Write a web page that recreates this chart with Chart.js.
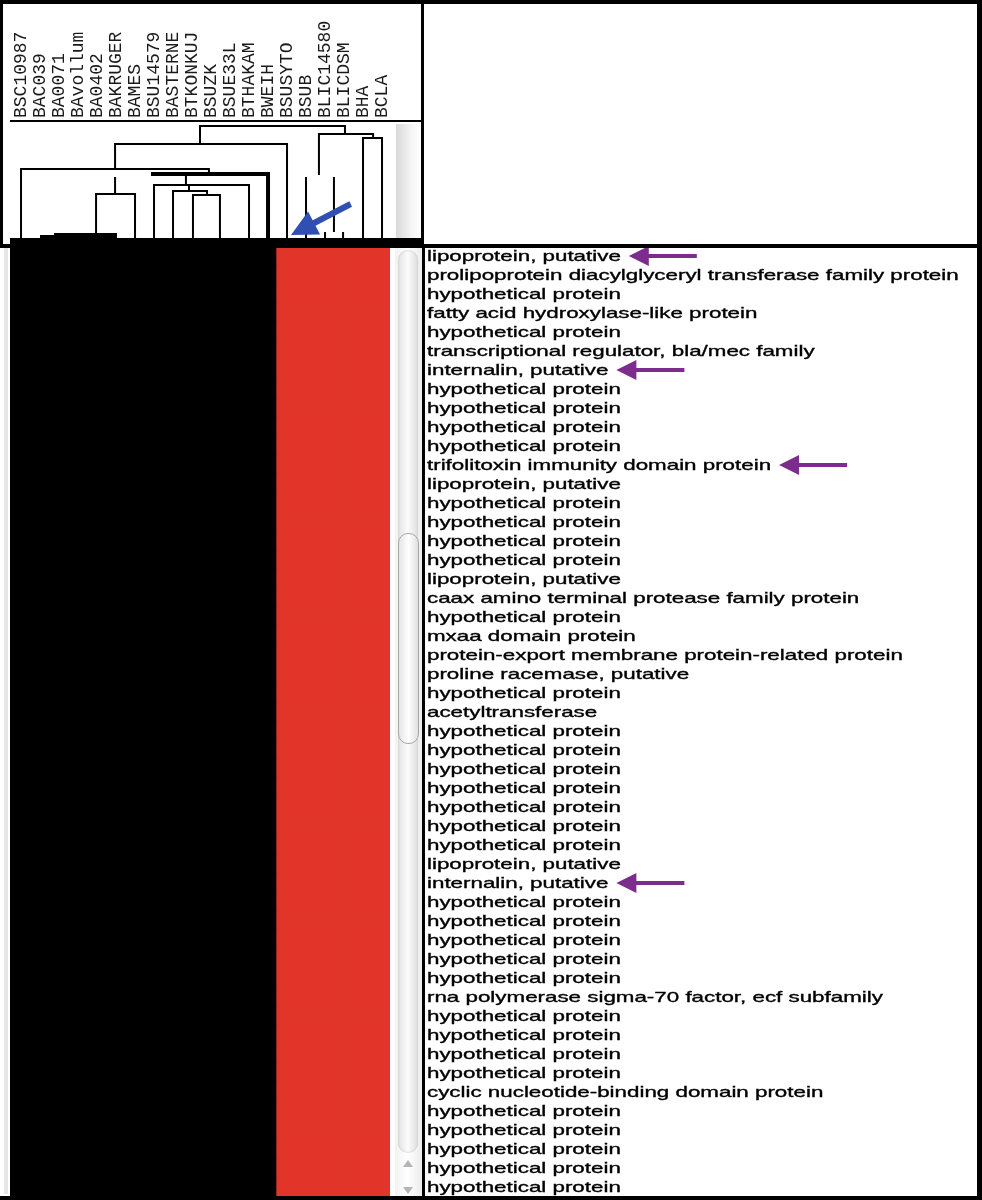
<!DOCTYPE html>
<html><head><meta charset="utf-8">
<script src="https://cdn.jsdelivr.net/npm/chart.js@4.4.1/dist/chart.umd.min.js"></script>
<style>
html,body{margin:0;padding:0;background:#fff;}
#wrap{position:relative;width:982px;height:1200px;overflow:hidden;background:#fff;}
#wrap canvas{position:absolute;left:0;}
.a{position:absolute;}
.k{background:#000;}
</style></head><body>
<div id="wrap">
<canvas id="dendro" width="982" height="246" style="top:0px"></canvas>
<canvas id="heat" width="982" height="954" style="top:246px"></canvas>
<!-- scrollbar-like decorations -->
<div class="a" style="left:396px;top:124px;width:25px;height:114px;background:linear-gradient(to right,#d9d9d9,#f4f4f4 60%,#fff);"></div>
<div class="a" style="left:395px;top:248px;width:27px;height:948px;background:linear-gradient(to right,#f2f2f2,#fff 45%,#ececec);"></div>
<div class="a" style="left:398px;top:250px;width:20px;height:903px;border-radius:10px;background:linear-gradient(to right,#e2e2e2,#fbfbfb 50%,#dedede);box-shadow:inset 0 0 2px #bbb;"></div>
<div class="a" style="left:398px;top:533px;width:19px;height:209px;border-radius:10px;border:1px solid #a8a8a8;background:linear-gradient(to right,#e4e4e4,#fff 50%,#e0e0e0);"></div>
<div class="a" style="left:403px;top:1160px;width:0;height:0;border-left:5px solid transparent;border-right:5px solid transparent;border-bottom:7px solid #b5b5b5;"></div>
<div class="a" style="left:403px;top:1187px;width:0;height:0;border-left:5px solid transparent;border-right:5px solid transparent;border-top:7px solid #b5b5b5;"></div>
<div class="a" style="left:4px;top:248px;width:4px;height:946px;background:#e6e6e6;"></div>
<!-- frame -->
<div class="a k" style="left:0;top:0;width:982px;height:4px;"></div>
<div class="a k" style="left:977px;top:0;width:5px;height:1200px;"></div>
<div class="a k" style="left:0;top:1196px;width:982px;height:4px;"></div>
<div class="a k" style="left:0;top:0;width:3px;height:246px;"></div>
<div class="a k" style="left:421px;top:0;width:3px;height:246px;"></div>
<div class="a k" style="left:10px;top:120px;width:412px;height:2px;"></div>
<div class="a k" style="left:10px;top:238px;width:412px;height:6px;"></div>
<div class="a k" style="left:0;top:244px;width:982px;height:4px;"></div>
<div class="a k" style="left:422px;top:246px;width:3px;height:952px;"></div>
</div>
<script>
// ---------- DATA ----------
const strains = ['BSC10987','BAC039','BA0071','BAvollum','BA0402','BAKRUGER','BAMES','BSU14579','BASTERNE','BTKONKUJ',
  'BSUZK','BSUE33L','BTHAKAM','BWEIH','BSUSYTO','BSUB','BLIC14580','BLICDSM','BHA','BCLA'];

const genes = [
  'lipoprotein, putative',
  'prolipoprotein diacylglyceryl transferase family protein',
  'hypothetical protein',
  'fatty acid hydroxylase-like protein',
  'hypothetical protein',
  'transcriptional regulator, bla/mec family',
  'internalin, putative',
  'hypothetical protein',
  'hypothetical protein',
  'hypothetical protein',
  'hypothetical protein',
  'trifolitoxin immunity domain protein',
  'lipoprotein, putative',
  'hypothetical protein',
  'hypothetical protein',
  'hypothetical protein',
  'hypothetical protein',
  'lipoprotein, putative',
  'caax amino terminal protease family protein',
  'hypothetical protein',
  'mxaa domain protein',
  'protein-export membrane protein-related protein',
  'proline racemase, putative',
  'hypothetical protein',
  'acetyltransferase',
  'hypothetical protein',
  'hypothetical protein',
  'hypothetical protein',
  'hypothetical protein',
  'hypothetical protein',
  'hypothetical protein',
  'hypothetical protein',
  'lipoprotein, putative',
  'internalin, putative',
  'hypothetical protein',
  'hypothetical protein',
  'hypothetical protein',
  'hypothetical protein',
  'hypothetical protein',
  'rna polymerase sigma-70 factor, ecf subfamily',
  'hypothetical protein',
  'hypothetical protein',
  'hypothetical protein',
  'hypothetical protein',
  'cyclic nucleotide-binding domain protein',
  'hypothetical protein',
  'hypothetical protein',
  'hypothetical protein',
  'hypothetical protein',
  'hypothetical protein'
];

// presence (1 = present, red) / absence (0, black); one row per gene, one column per strain
const presence = [
  [0,0,0,0,0,0,0,0,0,0,0,0,0,0,1,1,1,1,1,1],
  [0,0,0,0,0,0,0,0,0,0,0,0,0,0,1,1,1,1,1,1],
  [0,0,0,0,0,0,0,0,0,0,0,0,0,0,1,1,1,1,1,1],
  [0,0,0,0,0,0,0,0,0,0,0,0,0,0,1,1,1,1,1,1],
  [0,0,0,0,0,0,0,0,0,0,0,0,0,0,1,1,1,1,1,1],
  [0,0,0,0,0,0,0,0,0,0,0,0,0,0,1,1,1,1,1,1],
  [0,0,0,0,0,0,0,0,0,0,0,0,0,0,1,1,1,1,1,1],
  [0,0,0,0,0,0,0,0,0,0,0,0,0,0,1,1,1,1,1,1],
  [0,0,0,0,0,0,0,0,0,0,0,0,0,0,1,1,1,1,1,1],
  [0,0,0,0,0,0,0,0,0,0,0,0,0,0,1,1,1,1,1,1],
  [0,0,0,0,0,0,0,0,0,0,0,0,0,0,1,1,1,1,1,1],
  [0,0,0,0,0,0,0,0,0,0,0,0,0,0,1,1,1,1,1,1],
  [0,0,0,0,0,0,0,0,0,0,0,0,0,0,1,1,1,1,1,1],
  [0,0,0,0,0,0,0,0,0,0,0,0,0,0,1,1,1,1,1,1],
  [0,0,0,0,0,0,0,0,0,0,0,0,0,0,1,1,1,1,1,1],
  [0,0,0,0,0,0,0,0,0,0,0,0,0,0,1,1,1,1,1,1],
  [0,0,0,0,0,0,0,0,0,0,0,0,0,0,1,1,1,1,1,1],
  [0,0,0,0,0,0,0,0,0,0,0,0,0,0,1,1,1,1,1,1],
  [0,0,0,0,0,0,0,0,0,0,0,0,0,0,1,1,1,1,1,1],
  [0,0,0,0,0,0,0,0,0,0,0,0,0,0,1,1,1,1,1,1],
  [0,0,0,0,0,0,0,0,0,0,0,0,0,0,1,1,1,1,1,1],
  [0,0,0,0,0,0,0,0,0,0,0,0,0,0,1,1,1,1,1,1],
  [0,0,0,0,0,0,0,0,0,0,0,0,0,0,1,1,1,1,1,1],
  [0,0,0,0,0,0,0,0,0,0,0,0,0,0,1,1,1,1,1,1],
  [0,0,0,0,0,0,0,0,0,0,0,0,0,0,1,1,1,1,1,1],
  [0,0,0,0,0,0,0,0,0,0,0,0,0,0,1,1,1,1,1,1],
  [0,0,0,0,0,0,0,0,0,0,0,0,0,0,1,1,1,1,1,1],
  [0,0,0,0,0,0,0,0,0,0,0,0,0,0,1,1,1,1,1,1],
  [0,0,0,0,0,0,0,0,0,0,0,0,0,0,1,1,1,1,1,1],
  [0,0,0,0,0,0,0,0,0,0,0,0,0,0,1,1,1,1,1,1],
  [0,0,0,0,0,0,0,0,0,0,0,0,0,0,1,1,1,1,1,1],
  [0,0,0,0,0,0,0,0,0,0,0,0,0,0,1,1,1,1,1,1],
  [0,0,0,0,0,0,0,0,0,0,0,0,0,0,1,1,1,1,1,1],
  [0,0,0,0,0,0,0,0,0,0,0,0,0,0,1,1,1,1,1,1],
  [0,0,0,0,0,0,0,0,0,0,0,0,0,0,1,1,1,1,1,1],
  [0,0,0,0,0,0,0,0,0,0,0,0,0,0,1,1,1,1,1,1],
  [0,0,0,0,0,0,0,0,0,0,0,0,0,0,1,1,1,1,1,1],
  [0,0,0,0,0,0,0,0,0,0,0,0,0,0,1,1,1,1,1,1],
  [0,0,0,0,0,0,0,0,0,0,0,0,0,0,1,1,1,1,1,1],
  [0,0,0,0,0,0,0,0,0,0,0,0,0,0,1,1,1,1,1,1],
  [0,0,0,0,0,0,0,0,0,0,0,0,0,0,1,1,1,1,1,1],
  [0,0,0,0,0,0,0,0,0,0,0,0,0,0,1,1,1,1,1,1],
  [0,0,0,0,0,0,0,0,0,0,0,0,0,0,1,1,1,1,1,1],
  [0,0,0,0,0,0,0,0,0,0,0,0,0,0,1,1,1,1,1,1],
  [0,0,0,0,0,0,0,0,0,0,0,0,0,0,1,1,1,1,1,1],
  [0,0,0,0,0,0,0,0,0,0,0,0,0,0,1,1,1,1,1,1],
  [0,0,0,0,0,0,0,0,0,0,0,0,0,0,1,1,1,1,1,1],
  [0,0,0,0,0,0,0,0,0,0,0,0,0,0,1,1,1,1,1,1],
  [0,0,0,0,0,0,0,0,0,0,0,0,0,0,1,1,1,1,1,1],
  [0,0,0,0,0,0,0,0,0,0,0,0,0,0,1,1,1,1,1,1]
];

// genes highlighted with purple arrows (row indices)
const markedGenes = [0, 6, 11, 33];

// dendrogram links: [xLeft, xRight, height, leftDropTo, rightDropTo] (x in strain-column units)
const dendroLinks = [
  [10.00, 17.63, 112, 94, 104],
  [16.26, 19.11, 104, 63, 100],
  [18.58, 19.58, 100, 0, 0],
  [5.53, 14.58, 94, 69, 0],
  [0.58, 10.47, 69, 0, 64],
  [7.58, 12.58, 53, 0, 0],
  [8.58, 10.37, 47, 0, 43],
  [9.63, 11.05, 43, 0, 0],
  [4.53, 6.58, 44, 0, 0]
];
const dendroThickLinks = [
  [7.42, 13.58, 64, 64, 0]
];
// isolated vertical pieces: [x, top, bottom]
const dendroStems = [
  [5.53, 61, 44],
  [9.26, 62, 53],
  [9.42, 53, 47],
  [15.58, 61, 0],
  [17.05, 61, 6],
  [16.58, 6, 0],
  [17.53, 6, 0]
];
// short bars at the base: [xFrom, xTo, height]
const dendroBase = [
  [1.58, 5.63, 1.5],
  [2.32, 5.63, 3.5]
];
// blue arrow: from (x, h) to (x, h)
const blueArrow = {from: [17.93, 34], to: [14.79, 3]};

// ---------- STYLE ----------
const RED = '#e2352a', BLACK = '#000000';

function linkPoints(l){
  return [{x:l[0],y:l[3]},{x:l[0],y:l[2]},{x:l[1],y:l[2]},{x:l[1],y:l[4]}];
}
const lineDs = (pts, w) => ({data: pts, showLine: true, borderColor: '#000', borderWidth: w,
  pointRadius: 0, tension: 0, clip: false, borderCapStyle: 'butt', borderJoinStyle: 'miter'});

const dendroDatasets = [
  ...dendroLinks.map(l => lineDs(linkPoints(l), 2)),
  ...dendroThickLinks.map(l => lineDs(linkPoints(l), 4)),
  ...dendroStems.map(s => lineDs([{x:s[0],y:s[1]},{x:s[0],y:s[2]}], 2)),
  ...dendroBase.map(b => lineDs([{x:b[0],y:b[2]},{x:b[1],y:b[2]}], 3))
];

function drawArrow(ctx, x1, y1, x2, y2, shaftW, headLen, headHalf, color){
  const dx = x2 - x1, dy = y2 - y1, L = Math.hypot(dx, dy);
  const ux = dx / L, uy = dy / L, px = -uy, py = ux;
  const bx = x2 - ux * headLen, by = y2 - uy * headLen;
  ctx.save();
  ctx.strokeStyle = color; ctx.fillStyle = color; ctx.lineWidth = shaftW; ctx.lineCap = 'butt';
  ctx.beginPath(); ctx.moveTo(x1, y1); ctx.lineTo(bx + ux, by + uy); ctx.stroke();
  ctx.beginPath(); ctx.moveTo(x2, y2);
  ctx.lineTo(bx + px * headHalf, by + py * headHalf);
  ctx.lineTo(bx - px * headHalf, by - py * headHalf);
  ctx.closePath(); ctx.fill();
  ctx.restore();
}

const strainLabelPlugin = {
  id: 'strainLabels',
  afterDraw(chart){
    const ctx = chart.ctx, xs = chart.scales.x, ys = chart.scales.y;
    ctx.save();
    ctx.font = '18px "Liberation Mono", "DejaVu Sans Mono", monospace';
    ctx.fillStyle = '#1a1a1a';
    ctx.textAlign = 'left';
    ctx.textBaseline = 'alphabetic';
    strains.forEach((s, i) => {
      const x = xs.getPixelForValue(i + 0.5) + 6;
      ctx.save(); ctx.translate(x, 118); ctx.rotate(-Math.PI / 2); ctx.fillText(s, 0, 0); ctx.restore();
    });
    ctx.restore();
    drawArrow(ctx, xs.getPixelForValue(blueArrow.from[0]), ys.getPixelForValue(blueArrow.from[1]),
      xs.getPixelForValue(blueArrow.to[0]), ys.getPixelForValue(blueArrow.to[1]), 6, 26, 13, '#2f4fb3');
  }
};

const geneLabelPlugin = {
  id: 'geneLabels',
  afterDraw(chart){
    const ctx = chart.ctx, ys = chart.scales.y, area = chart.chartArea;
    const x0 = area.right + 37, sx = 1.49;
    ctx.save();
    ctx.font = '15px "Liberation Sans", Arial, sans-serif';
    ctx.fillStyle = '#000';
    ctx.strokeStyle = '#000';
    ctx.lineWidth = 0.35;
    ctx.textAlign = 'left';
    ctx.textBaseline = 'alphabetic';
    genes.forEach((g, i) => {
      const yc = ys.getPixelForValue(i);
      ctx.save(); ctx.translate(x0, yc + 5.5); ctx.scale(sx, 1);
      ctx.fillText(g, 0, 0); ctx.strokeText(g, 0, 0); ctx.restore();
    });
    markedGenes.forEach(i => {
      const yc = ys.getPixelForValue(i);
      const tip = x0 + ctx.measureText(genes[i]).width * sx + 8;
      drawArrow(ctx, tip + 68, yc + 0.5, tip, yc + 0.5, 4, 20, 10, '#7b2c8d');
    });
    ctx.restore();
  }
};

new Chart(document.getElementById('dendro'), {
  type: 'scatter',
  data: {datasets: dendroDatasets},
  options: {
    responsive: false, animation: false, devicePixelRatio: 1,
    layout: {padding: {left: 10, right: 592, top: 126, bottom: 8}},
    scales: {
      x: {type: 'linear', min: 0, max: 20, display: false},
      y: {type: 'linear', min: 0, max: 112, display: false}
    },
    plugins: {legend: {display: false}, tooltip: {enabled: false}}
  },
  plugins: [strainLabelPlugin]
});

const heatDatasets = strains.map((s, c) => ({
  label: s,
  data: genes.map(() => [c, c + 1]),
  backgroundColor: genes.map((g, r) => presence[r][c] ? RED : BLACK),
  borderWidth: 0,
  grouped: false,
  barPercentage: 1,
  categoryPercentage: 1
}));

new Chart(document.getElementById('heat'), {
  type: 'bar',
  data: {labels: genes, datasets: heatDatasets},
  options: {
    indexAxis: 'y',
    responsive: false, animation: false, devicePixelRatio: 1,
    layout: {padding: {left: 10, right: 592, top: 0, bottom: 4}},
    scales: {
      x: {type: 'linear', min: 0, max: 20, display: false},
      y: {display: false, offset: true}
    },
    plugins: {legend: {display: false}, tooltip: {enabled: false}}
  },
  plugins: [geneLabelPlugin]
});
</script>
</body></html>
